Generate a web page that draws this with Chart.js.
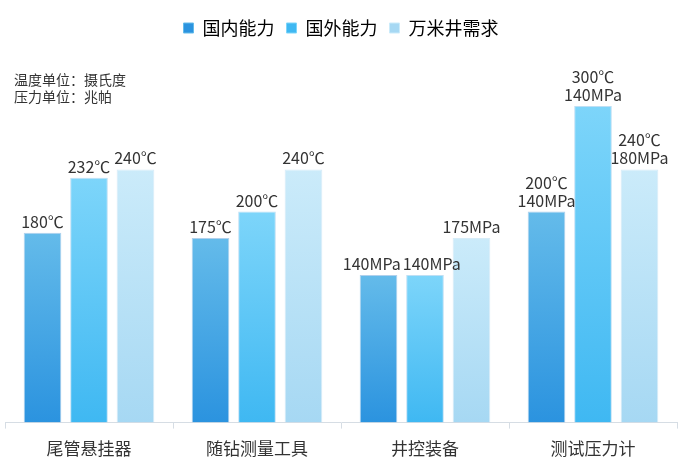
<!DOCTYPE html>
<html lang="zh">
<head>
<meta charset="UTF-8">
<title>万米井装备能力对比</title>
<script src="https://cdn.jsdelivr.net/npm/chart.js"></script>
<style>
    html, body { margin: 0; padding: 0; background: #ffffff; }
    #wrap { width: 700px; height: 471px; position: relative; }
</style>
</head>
<body>
<div id="wrap"><canvas id="chart"></canvas></div>
<script>
    // categories and series
    const categories = ['尾管悬挂器', '随钻测量工具', '井控装备', '测试压力计'];
    const seriesNames = ['国内能力', '国外能力', '万米井需求'];
    const domestic = [180, 175, 140, 200];
    const foreign = [232, 200, 140, 300];
    const required = [240, 240, 175, 240];

    // labels shown above bars
    const domesticLabels = [['180℃'], ['175℃'], ['140MPa'], ['200℃', '140MPa']];
    const foreignLabels = [['232℃'], ['200℃'], ['140MPa'], ['300℃', '140MPa']];
    const requiredLabels = [['240℃'], ['240℃'], ['175MPa'], ['240℃', '180MPa']];

    const unitNotes = ['温度单位：摄氏度', '压力单位：兆帕'];

    const FONT = '"Noto Sans CJK SC", "Noto Sans", sans-serif';

    // bottom / top colours of each series
    const grads = [
        ['#2b93df', '#64bbea'],
        ['#3fb8f2', '#7dd5fa'],
        ['#a6d8f3', '#cbebfa']
    ];

    function barFill(idx) {
        return function (ctx) {
            const chart = ctx.chart;
            const area = chart.chartArea;
            if (!area || ctx.type !== 'data') return grads[idx][0];
            const y = chart.scales.y;
            const top = y.getPixelForValue(ctx.raw);
            const bottom = y.getPixelForValue(0);
            const g = chart.ctx.createLinearGradient(0, bottom, 0, top);
            g.addColorStop(0, grads[idx][0]);
            g.addColorStop(1, grads[idx][1]);
            return g;
        };
    }

    const allLabels = [domesticLabels, foreignLabels, requiredLabels];
    const LINE_H = 18;

    const barLabels = {
        id: 'barLabels',
        afterDatasetsDraw(chart) {
            const c = chart.ctx;
            c.save();
            c.font = '16px ' + FONT;
            c.fillStyle = '#333333';
            c.textAlign = 'center';
            c.textBaseline = 'bottom';
            const n = chart.data.labels.length;
            for (let i = 0; i < n; i++) {
                // build label boxes for this category
                const boxes = chart.data.datasets.map((ds, di) => {
                    const bar = chart.getDatasetMeta(di).data[i];
                    const lines = allLabels[di][i];
                    const w = Math.max(...lines.map(t => c.measureText(t).width));
                    const bottom = bar.y - 3;
                    return { x: bar.x, w, bottom, top: bottom - lines.length * LINE_H, lines };
                });
                // push apart neighbours that would overlap
                for (let k = 0; k < boxes.length - 1; k++) {
                    const a = boxes[k], b = boxes[k + 1];
                    const vOverlap = a.top < b.bottom && b.top < a.bottom;
                    const need = (a.w + b.w) / 2 + 2 - (b.x - a.x);
                    if (vOverlap && need > 0) {
                        a.x -= need / 2;
                        b.x += need / 2;
                    }
                }
                boxes.forEach(bx => {
                    bx.lines.forEach((t, k) => {
                        c.fillText(t, bx.x, bx.bottom - (bx.lines.length - 1 - k) * LINE_H);
                    });
                });
            }
            // unit notes, top left
            c.font = '14px ' + FONT;
            c.textAlign = 'left';
            c.textBaseline = 'middle';
            unitNotes.forEach((t, k) => c.fillText(t, 14, 80 + k * 17));
            c.restore();
        }
    };

    new Chart(document.getElementById('chart'), {
        type: 'bar',
        data: {
            labels: categories,
            datasets: [
                { label: seriesNames[0], data: domestic, backgroundColor: barFill(0), borderColor: 'rgba(30,120,200,0.35)', borderWidth: 1, borderSkipped: 'bottom' },
                { label: seriesNames[1], data: foreign, backgroundColor: barFill(1), borderColor: 'rgba(40,150,220,0.3)', borderWidth: 1, borderSkipped: 'bottom' },
                { label: seriesNames[2], data: required, backgroundColor: barFill(2), borderColor: 'rgba(140,200,235,0.35)', borderWidth: 1, borderSkipped: 'bottom' }
            ]
        },
        options: {
            responsive: true,
            maintainAspectRatio: false,
            animation: false,
            layout: { padding: { left: 5, right: 23, top: 7, bottom: 2 } },
            datasets: {
                bar: { categoryPercentage: 0.83, barPercentage: 0.81 }
            },
            scales: {
                x: {
                    grid: {
                        offset: true,
                        drawOnChartArea: false,
                        drawTicks: true,
                        tickLength: 6,
                        color: '#d6dde4'
                    },
                    border: { display: true, color: '#d6dde4' },
                    ticks: {
                        color: '#333333',
                        padding: 10,
                        font: { family: FONT, size: 17 }
                    }
                },
                y: {
                    display: false,
                    min: 0,
                    max: 356
                }
            },
            plugins: {
                legend: {
                    position: 'top',
                    labels: {
                        color: '#333333',
                        boxWidth: 10,
                        boxHeight: 10,
                        padding: 12,
                        font: { family: FONT, size: 18 },
                        generateLabels(chart) {
                            return chart.data.datasets.map((ds, i) => ({
                                text: ds.label,
                                fillStyle: grads[i][0],
                                strokeStyle: grads[i][1],
                                lineWidth: 1,
                                datasetIndex: i
                            }));
                        }
                    }
                },
                tooltip: { enabled: false }
            }
        },
        plugins: [barLabels]
    });
</script>
</body>
</html>
